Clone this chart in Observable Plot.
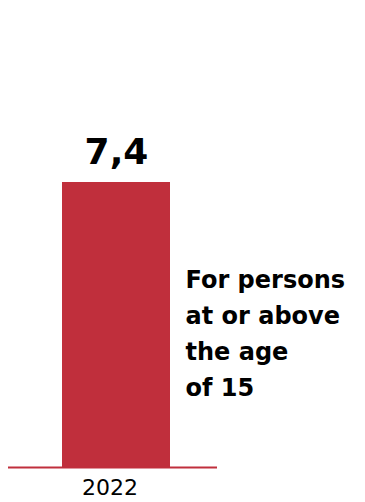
<!DOCTYPE html>
<html>
<head>
<meta charset="utf-8">
<script src="https://cdn.jsdelivr.net/npm/d3@7"></script>
<script src="https://cdn.jsdelivr.net/npm/@observablehq/plot@0.6"></script>
<style>
  html, body { margin: 0; padding: 0; background: #fff; }
  #chart svg { display: block; }
</style>
</head>
<body>
<div id="chart"></div>
<script>
const years = ["2022"];
const values = [7.4];
const valueLabels = ["7,4"];
const note = "For persons\nat or above\nthe age\nof 15";

const data = years.map((y, i) => ({year: y, value: values[i], label: valueLabels[i]}));

const barColor = "#C02F3C";

const chart = Plot.plot({
  width: 365,
  height: 502,
  marginTop: 182,
  marginBottom: 35,
  marginLeft: 8,
  marginRight: 148,
  style: {fontFamily: "DejaVu Sans, sans-serif", background: "#fff", color: "#000"},
  x: {domain: years, padding: 0, label: null},
  y: {domain: [0, 7.4], axis: null},
  marks: [
    Plot.barY(data, {x: "year", y: "value", fill: barColor, insetLeft: 54, insetRight: 47}),
    Plot.ruleY([0], {stroke: barColor, strokeWidth: 2}),
    Plot.axisX({tickSize: 0, tickPadding: 12, fontSize: 22, dx: -3, label: null}),
    Plot.text(data, {x: "year", y: "value", text: "label", fontSize: 36, fontWeight: "bold",
      lineAnchor: "top", dx: 3.5, dy: -43.6, fill: "#000"}),
    Plot.text([note], {frameAnchor: "top-right", text: d => d, textAnchor: "start",
      lineAnchor: "top", lineHeight: 1.5, fontSize: 24, fontWeight: "bold",
      dx: -32, dy: 80, fill: "#000"})
  ]
});
document.getElementById("chart").appendChild(chart);
</script>
</body>
</html>
